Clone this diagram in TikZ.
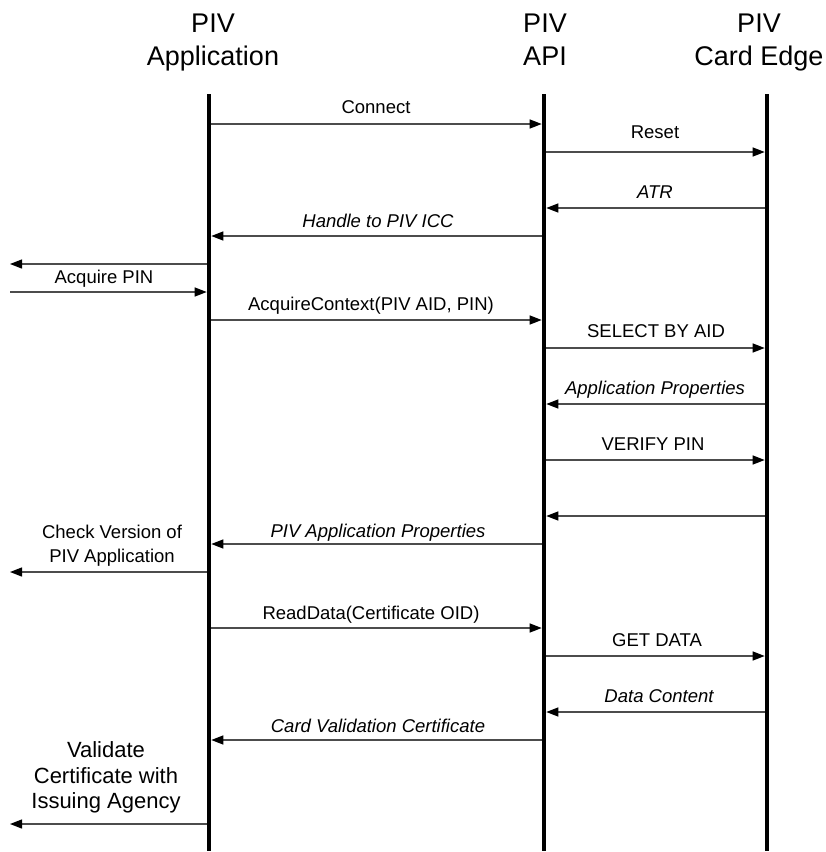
\documentclass[tikz,border=0pt]{standalone}
\usepackage{fontspec}
\setmainfont{Liberation Sans}
\usetikzlibrary{arrows.meta}
\begin{document}
\begin{tikzpicture}[x=1pt,y=-1pt,
  lifeline/.style={line width=4.5pt},
  msg/.style={line width=1.3pt, draw=black!70,
    -{Triangle[length=12pt,width=9pt,color=black]},
    shorten >=2.3pt, shorten <=2.3pt},
  lbl/.style={anchor=base, inner sep=0pt, font=\fontsize{18.5}{22}\selectfont},
  ilbl/.style={lbl, font=\fontsize{18.5}{22}\selectfont\itshape},
  bigl/.style={anchor=base, inner sep=0pt, font=\fontsize{22}{26}\selectfont},
  head/.style={anchor=base, inner sep=0pt, font=\fontsize{27}{33}\selectfont},
]
\useasboundingbox (0,0) rectangle (826,852);

% participant headings
\node[head] (h1a) at (213,32) {PIV};
\node[head] (h1b) at (213,65) {Application};
\node[head] (h2a) at (545,32) {PIV};
\node[head] (h2b) at (545,65) {API};
\node[head] (h3a) at (759,32) {PIV};
\node[head] (h3b) at (759,65) {Card Edge};

% lifelines
\coordinate (appT) at (209,94);  \coordinate (appB) at (209,851);
\coordinate (apiT) at (544,94);  \coordinate (apiB) at (544,851);
\coordinate (crdT) at (767,94);  \coordinate (crdB) at (767,851);
\coordinate (ext) at (10,0);
\draw[lifeline] (appT) -- (appB);
\draw[lifeline] (apiT) -- (apiB);
\draw[lifeline] (crdT) -- (crdB);

% messages
\draw[msg] (appT |- 0,124) -- (apiT |- 0,124);
\node[lbl] (m1) at (376,113) {Connect};

\draw[msg] (apiT |- 0,152) -- (crdT |- 0,152);
\node[lbl] (m2) at (655,138) {Reset};

\draw[msg] (crdT |- 0,208) -- (apiT |- 0,208);
\node[ilbl] (m3) at (655,198) {ATR};

\draw[msg] (apiT |- 0,236) -- (appT |- 0,236);
\node[ilbl] (m4) at (378,227) {Handle to PIV ICC};

\draw[msg, shorten >=0pt] (appT |- 0,264) -- (ext |- 0,264);

\draw[msg, shorten <=0pt] (ext |- 0,292) -- (appT |- 0,292);
\node[lbl] (m6) at (104,283) {Acquire PIN};

\draw[msg] (appT |- 0,320) -- (apiT |- 0,320);
\node[lbl] (m7) at (371,310) {AcquireContext(PIV AID, PIN)};

\draw[msg] (apiT |- 0,348) -- (crdT |- 0,348);
\node[lbl] (m8) at (656,337) {SELECT BY AID};

\draw[msg] (crdT |- 0,404) -- (apiT |- 0,404);
\node[ilbl] (m9) at (655,394) {Application Properties};

\draw[msg] (apiT |- 0,460) -- (crdT |- 0,460);
\node[lbl] (m10) at (653,450) {VERIFY PIN};

\draw[msg] (crdT |- 0,516) -- (apiT |- 0,516);

\draw[msg] (apiT |- 0,544) -- (appT |- 0,544);
\node[ilbl] (m12) at (378,537) {PIV Application Properties};

\draw[msg, shorten >=0pt] (appT |- 0,572) -- (ext |- 0,572);
\node[lbl] (m13a) at (112,538) {Check Version of};
\node[lbl] (m13b) at (112,562) {PIV Application};

\draw[msg] (appT |- 0,628) -- (apiT |- 0,628);
\node[lbl] (m14) at (371,619) {ReadData(Certificate OID)};

\draw[msg] (apiT |- 0,656) -- (crdT |- 0,656);
\node[lbl] (m15) at (657,646) {GET DATA};

\draw[msg] (crdT |- 0,712) -- (apiT |- 0,712);
\node[ilbl] (m16) at (659,702) {Data Content};

\draw[msg] (apiT |- 0,740) -- (appT |- 0,740);
\node[ilbl] (m17) at (378,732) {Card Validation Certificate};

\draw[msg, shorten >=0pt] (appT |- 0,824) -- (ext |- 0,824);
\node[bigl] (m18a) at (106,757) {Validate};
\node[bigl] (m18b) at (106,783) {Certificate with};
\node[bigl] (m18c) at (106,808) {Issuing Agency};
\end{tikzpicture}
\end{document}
